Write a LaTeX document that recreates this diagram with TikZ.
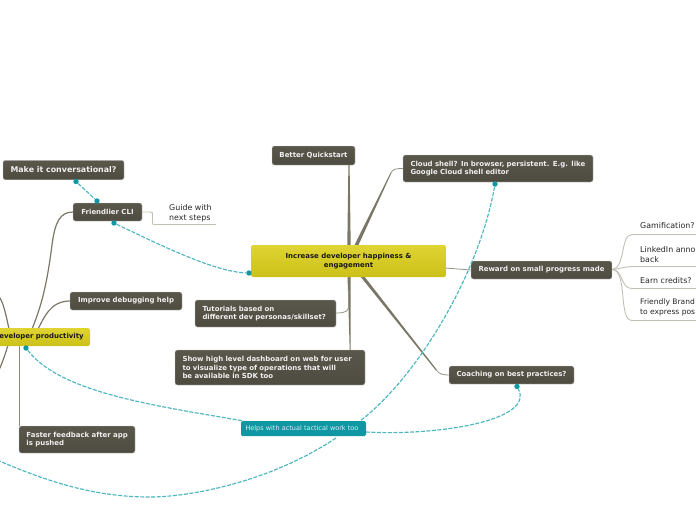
\documentclass[tikz,border=0pt]{standalone}
\usepackage{fontspec}
\setmainfont{DejaVu Sans}
\definecolor{conn}{HTML}{7B7767}
\definecolor{leafline}{HTML}{C2C0B4}
\definecolor{teal}{HTML}{0F97A3}
\definecolor{dashc}{HTML}{4DB6BF}
\definecolor{boxa}{HTML}{5F5C50}
\definecolor{boxb}{HTML}{62604F}
\definecolor{boxc}{HTML}{47453A}
\definecolor{boxd}{HTML}{4F4D41}
\definecolor{ya}{HTML}{E0D52E}
\definecolor{yb}{HTML}{C8BA14}
\definecolor{yc}{HTML}{D0C41E}
\definecolor{yd}{HTML}{E8DE40}
\pgfdeclareverticalshading{darkbox}{100bp}{color(0bp)=(boxb);color(10bp)=(boxc);color(30bp)=(boxd);color(100bp)=(boxa)}
\pgfdeclareverticalshading{yellowbox}{100bp}{color(0bp)=(ya);color(12bp)=(yb);color(35bp)=(yc);color(100bp)=(yd)}
\tikzset{
 box/.style={rounded corners=2.2pt,inner xsep=0pt,inner ysep=0pt,align=left,font=\fontsize{6.95}{8.5}\selectfont\bfseries},
 dark/.style={box,shading=darkbox,draw=gray!45,line width=.4pt,text=white!94!black},
 yel/.style={box,shading=yellowbox,text=black!90,align=center},
 tag/.style={rounded corners=1.5pt,fill=teal,text=white!85!teal,inner sep=0pt,font=\fontsize{6.5}{8}\selectfont},
 leaf/.style={inner sep=0pt,align=left,anchor=north west,font=\fontsize{7.9}{10}\selectfont,text=black!85},
 branch/.style={draw=conn,line width=1.2pt,line cap=round},
 thin branch/.style={draw=conn!80,line width=.8pt},
 leafedge/.style={draw=leafline,line width=.9pt},
 wedge/.style={fill=conn,draw=none},
 link/.style={draw=dashc,line width=1.15pt,dash pattern=on 4pt off 1.5pt},
 dot/.style={circle,fill=teal,inner sep=0pt,minimum size=5.4pt},
}
\begin{document}
\begin{tikzpicture}[x=1pt,y=-1pt]
\useasboundingbox (0,0) rectangle (696,520);
\clip (0,0) rectangle (696,520);
% named anchors for connectors
\coordinate (offb) at (-8,385);
\coordinate (offc) at (-30,448);
\coordinate (root1) at (32,329);
\coordinate (root2) at (38,329);
\coordinate (root3) at (9,329);
\coordinate (root4) at (8,345);
\coordinate (root5) at (19.5,345);
\coordinate (g1) at (216,224.5);
\coordinate (l1) at (696,234.5);
\coordinate (l2) at (696,266.5);
\coordinate (l3) at (696,288.5);
\coordinate (l4) at (696,320.5);
% connectors first, nodes on top
\path[wedge] (347.3,246) -- (350.7,246) -- (349.6,165) -- (348.4,165) -- cycle;
\path[wedge] (354,246) -- (358,246) -- (391.5,172.8) -- (390.7,172.4) -- cycle;
\draw[thin branch] (391,172.6) .. controls (393,169) and (396,168.5) .. (403,168.5);
\path[wedge] (360,276) -- (364,276) -- (437,370) -- (436,370.6) -- cycle;
\draw[thin branch] (436.5,370.3) .. controls (439,374) and (443,375) .. (449,375);
\path[wedge] (347.5,276) -- (350.5,276) -- (350.5,350) -- (349.7,350) -- cycle;
\draw[thin branch] (348.5,290) -- (348.5,306) .. controls (348.5,311) and (346,313) .. (336,313);
\draw[thin branch] (445,268) -- (471,270);
\draw[branch] (root1) .. controls (44,300) and (48,275) .. (52,245) .. controls (55,222) and (60,212) .. (73,212);
\draw[branch] (root2) .. controls (44,318) and (50,301) .. (70,301);
\draw[branch] (root3) .. controls (6,315) and (4,305) .. (0,298);
\draw[branch] (root4) .. controls (5,355) and (2,365) .. (offb);
\draw[draw=conn!85,line width=1.6pt] (root5) -- (19.5,426);
\draw[leafedge] (142,212) -- (150,212) .. controls (152.5,212) and (152.5,212) .. (152.5,216) -- (152.5,222) .. controls (152.5,224.5) and (152.5,224.5) .. (155,224.5) -- (g1);
\draw[leafedge] (612,269.5) .. controls (626,268) and (620,234.5) .. (632,234.5) -- (l1);
\draw[leafedge] (612,269.5) .. controls (620,269) and (625,266.5) .. (632,266.5) -- (l2);
\draw[leafedge] (612,269.5) .. controls (624,270) and (620,288.5) .. (632,288.5) -- (l3);
\draw[leafedge] (612,269.5) .. controls (628,270) and (618,320.5) .. (632,320.5) -- (l4);
% nodes
\node[dark,minimum width=121pt,minimum height=19.5pt,align=center,font=\fontsize{7.9}{10}\selectfont\bfseries] (conv) at (63.5,170) {Make it conversational?};
\node[dark,minimum width=69pt,minimum height=18pt,align=center] (cli) at (107.5,212) {Friendlier CLI};
\node[dark,minimum width=112pt,minimum height=18pt,align=center] (debug) at (126,301) {Improve debugging help};
\node[dark,minimum width=83pt,minimum height=19pt,align=center] (quick) at (313.5,155.5) {Better Quickstart};
\node[dark,minimum width=190pt,minimum height=27pt,text width=175pt] (cloud) at (498,168.5) {Cloud shell? In browser, persistent. E.g. like\\Google Cloud shell editor};
\node[yel,minimum width=195pt,minimum height=32pt] (main) at (348.5,261) {Increase developer happiness \&\\engagement};
\node[dark,minimum width=141pt,minimum height=18pt,align=center] (reward) at (541.5,270) {Reward on small progress made};
\node[dark,minimum width=141pt,minimum height=27pt,text width=126pt] (tut) at (265.5,313.5) {Tutorials based on\\different dev personas/skillset?};
\node[dark,minimum width=190pt,minimum height=35pt,text width=175pt] (dash) at (270,367.5) {Show high level dashboard on web for user\\to visualize type of operations that will\\be available in SDK too};
\node[dark,minimum width=125pt,minimum height=18pt,align=center] (coach) at (511.5,375) {Coaching on best practices?};
\node[yel,minimum width=150pt,minimum height=18pt] (prod) at (15,337) {\hspace*{53pt}eveloper productivity};
\node[dark,minimum width=116pt,minimum height=27pt,text width=101pt] (fast) at (77,439.5) {\makebox[101pt][l]{Faster feedback after app}\\is pushed};
% leaf texts
\node[leaf] (guide) at (169,204) {Guide with\\next steps};
\node[leaf] (gam) at (640,222.5) {Gamification?};
\node[leaf] (link) at (640,246) {LinkedIn anno\\back};
\node[leaf] (earn) at (640,277.5) {Earn credits?};
\node[leaf,font=\fontsize{7.55}{10.5}\selectfont] (brand) at (640,298.5) {Friendly Brand\\to express pos};
% dashed links
\node[dot] (d1) at (76,181.5) {};
\node[dot] (d2) at (97,201) {};
\node[dot] (d3) at (114,223) {};
\node[dot] (d4) at (249,273) {};
\node[dot] (d5) at (26,348) {};
\node[dot] (d6) at (495,184) {};
\node[dot] (d7) at (517,386.5) {};
\draw[link] (d1) -- (d2);
\draw[link] (d3) .. controls (160,245) and (215,272) .. (d4);
\draw[link] (d5) .. controls (60,392) and (150,405) .. (244,421);
\draw[link] (d6) .. controls (480,270) and (420,375) .. (360,421);
\draw[link] (336,438) .. controls (270,482) and (190,497) .. (150,497) .. controls (90,497) and (40,480) .. (offc);
\draw[link] (366,432) .. controls (440,436) and (535,420) .. (d7);
\node[tag,minimum width=125pt,minimum height=15pt,text width=116pt,align=left] (tact) at (303.5,428.5) {Helps with actual tactical work too};
\end{tikzpicture}
\end{document}
